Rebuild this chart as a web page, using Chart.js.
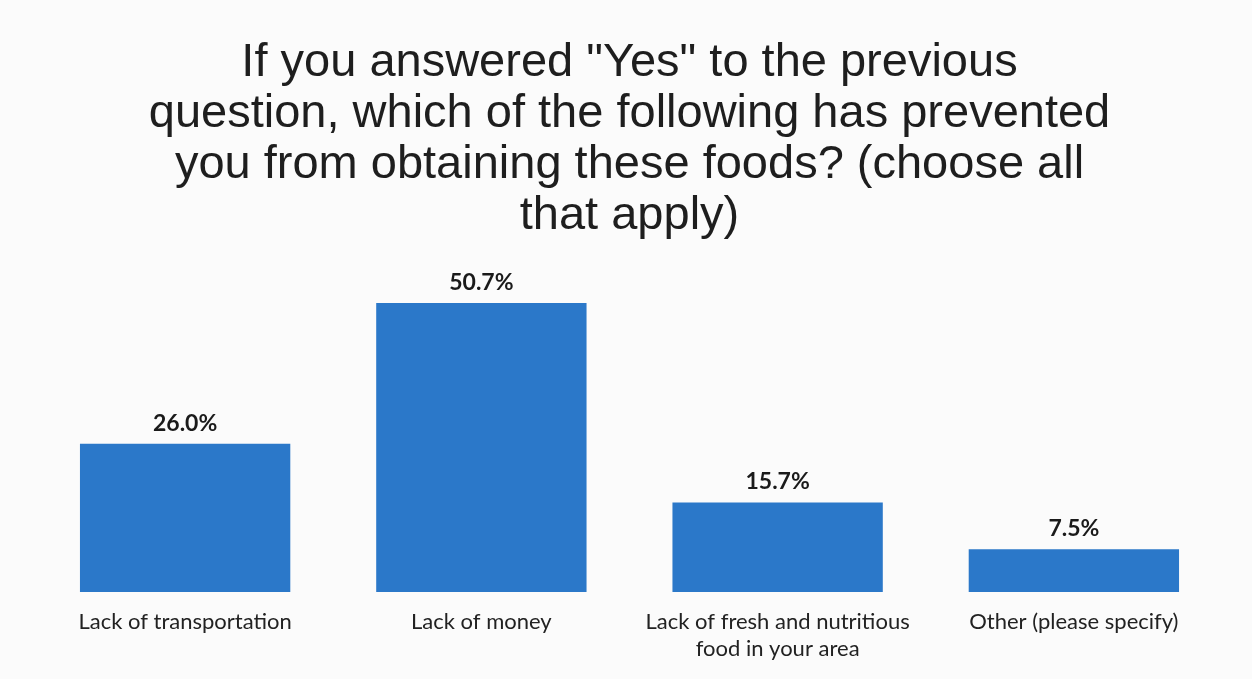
<!DOCTYPE html>
<html>
<head>
<meta charset="utf-8">
<script src="https://cdn.jsdelivr.net/npm/chart.js@4"></script>
<style>
  html, body { margin: 0; padding: 0; background: #fbfbfb; }
  #wrap { width: 1252px; height: 679px; position: relative; }
</style>
</head>
<body>
<div id="wrap"><canvas id="prevChart"></canvas></div>
<script>
// survey answers
const categories = [
  'Lack of transportation',
  'Lack of money',
  ['Lack of fresh and nutritious', 'food in your area'],
  'Other (please specify)'
];
const percentages = [26.0, 50.7, 15.7, 7.5];
const titleLines = [
  'If you answered "Yes" to the previous',
  'question, which of the following has prevented',
  'you from obtaining these foods? (choose all',
  'that apply)'
];

// draws the value above every bar
const valueLabels = {
  id: 'valueLabels',
  afterDatasetsDraw(chart) {
    const ctx = chart.ctx;
    const meta = chart.getDatasetMeta(0);
    ctx.save();
    ctx.font = 'bold 23px Lato';
    ctx.fillStyle = '#1a1a1a';
    ctx.textAlign = 'center';
    ctx.textBaseline = 'bottom';
    meta.data.forEach((bar, i) => {
      ctx.fillText(percentages[i].toFixed(1) + '%', bar.x, bar.y - 9);
    });
    ctx.restore();
  }
};

new Chart(document.getElementById('prevChart'), {
  type: 'bar',
  data: {
    labels: categories,
    datasets: [{
      data: percentages,
      backgroundColor: '#2b78c9',
      borderWidth: 0,
      categoryPercentage: 0.71,
      barPercentage: 1.0
    }]
  },
  options: {
    responsive: true,
    maintainAspectRatio: false,
    animation: false,
    layout: { padding: { left: 37, right: 30, top: 0, bottom: 0 } },
    plugins: {
      legend: { display: false },
      tooltip: { enabled: false },
      title: {
        display: true,
        text: titleLines,
        color: '#1e1e1e',
        font: { family: 'Liberation Sans', size: 47, weight: 'normal', lineHeight: 1.085 },
        padding: { top: 38, bottom: 8 }
      }
    },
    scales: {
      x: {
        grid: { display: false, drawTicks: false },
        border: { display: false },
        ticks: {
          color: '#222',
          font: { family: 'Lato', size: 22, lineHeight: 1.25 },
          padding: 16,
          maxRotation: 0,
          autoSkip: false
        }
      },
      y: {
        display: false,
        min: 0,
        max: 60
      }
    }
  },
  plugins: [valueLabels]
});
</script>
</body>
</html>
